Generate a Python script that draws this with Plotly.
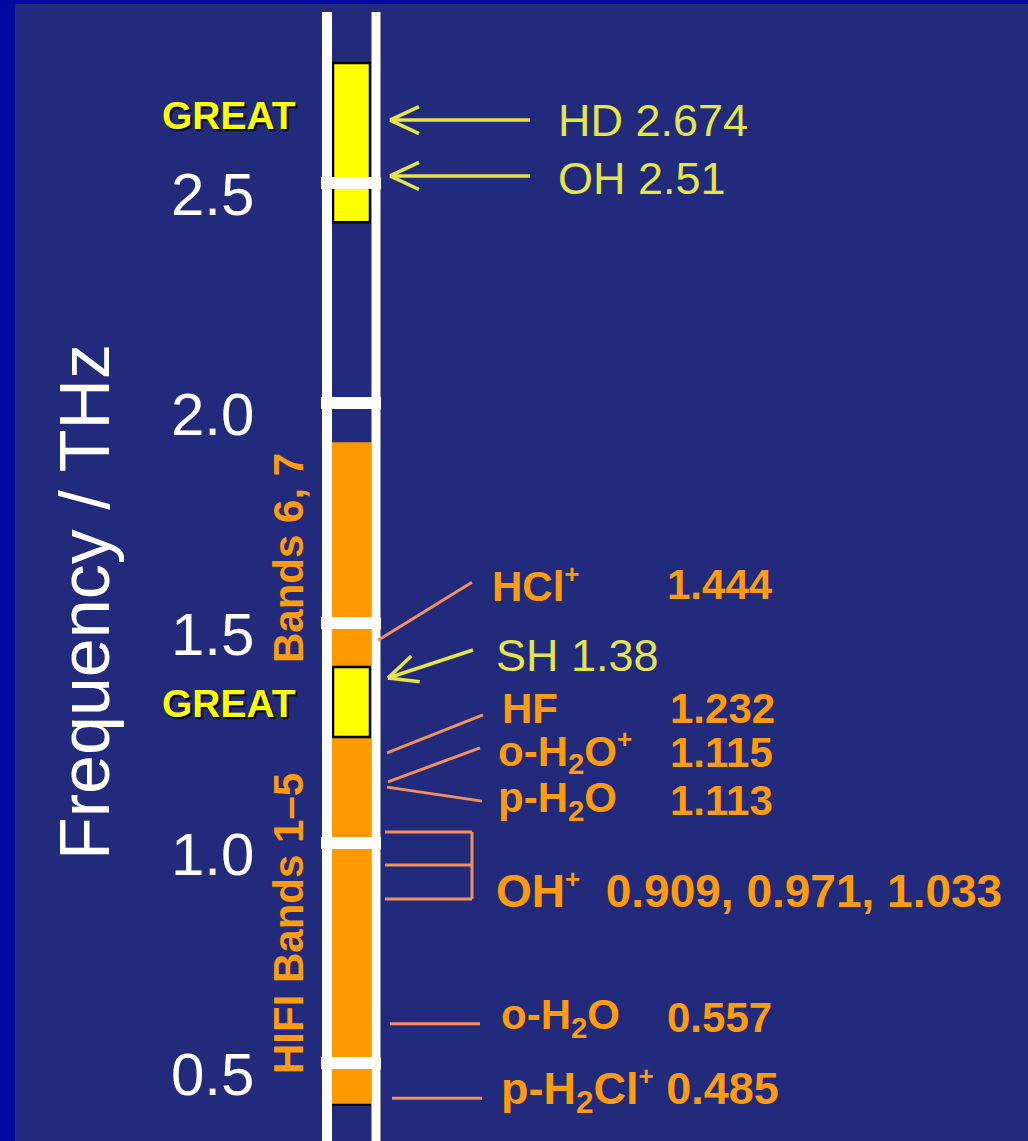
import numpy as np
import plotly.graph_objects as go

# ---------------- data ----------------
tick_vals = [0.5, 1.0, 1.5, 2.0, 2.5]
tick_labels = ["0.5", "1.0", "1.5", "2.0", "2.5"]

hifi_band = [0.405, 1.911]              # orange HIFI coverage (THz)
great_lo = [2.411, 1.241]               # yellow GREAT windows (THz)
great_hi = [2.773, 1.400]

# yellow arrow lines (species observed by GREAT)
great_lines = ["HD 2.674", "OH 2.51", "SH 1.38"]
great_arrow_thz = [2.643, 2.516, 1.375]

# orange pointer lines (HIFI species)
SUP = '<sup><span style="font-size:26px">+</span></sup>'
hifi_species = ["HCl" + SUP, "HF", "o-H<sub>2</sub>O" + SUP, "p-H<sub>2</sub>O",
                "OH" + SUP + "  0.909, 0.971, 1.033", "o-H<sub>2</sub>O",
                "p-H<sub>2</sub>Cl" + SUP + " 0.485"]
hifi_freq_text = ["1.444", "1.232", "1.115", "1.113", "", "0.557", ""]
pointer_thz = [1.461, 1.205, 1.139, 1.127, 0.873, 0.589, 0.420]
ohp_thz = [1.025, 0.950, 0.873]

# ---------------- layout constants ----------------
W, H = 1028, 1141
PX = 440.0          # pixels per THz
Y2 = 403.0          # pixel row of 2.0 THz
y_top = 2.0 + Y2 / PX
y_bot = 2.0 - (H - Y2) / PX


def py(p):
    """pixel row -> THz (for placing text)"""
    return 2.0 + (Y2 - p) / PX


BG = "#222a7c"
ORANGE = "#ff9900"
ORTEXT = "#ff9b0f"
PTR = "#f2915f"
YEL_TXT = "#e3e54b"
FONT = "Liberation Sans, Arial, sans-serif"

fig = go.Figure()

# HIFI band bar
fig.add_trace(go.Bar(x=[351.5], base=[hifi_band[0]], y=[hifi_band[1] - hifi_band[0]], width=40,
                     marker=dict(color=ORANGE, line=dict(width=0))))
# black bottom edge
fig.add_trace(go.Scatter(x=[332, 371], y=[hifi_band[0]] * 2, mode="lines",
                         line=dict(color="black", width=2)))
# GREAT bars
fig.add_trace(go.Bar(x=[351.5] * len(great_lo), base=great_lo,
                     y=[h - l for h, l in zip(great_hi, great_lo)], width=37,
                     marker=dict(color="#ffff00", line=dict(color="black", width=2.5))))

# white rails
rail_top = py(12)
for xr, wd in [(327, 10), (376, 9)]:
    fig.add_trace(go.Scatter(x=[xr, xr], y=[rail_top, y_bot], mode="lines",
                             line=dict(color="white", width=wd)))
# crossbars at ticks
for t in tick_vals:
    fig.add_trace(go.Scatter(x=[321, 381], y=[t, t], mode="lines",
                             line=dict(color="white", width=12)))

# orange pointer lines
ptr_x0 = [378, 387, 388, 387, 385, 390, 392]
ptr_x1 = [472, 483, 480, 482, 472, 480, 482]
ptr_dy = [-58, -38, -34, 14, 0, 0, 0]     # pixel offset of far end
for i, f in enumerate(pointer_thz):
    if i == 4:
        continue
    fig.add_trace(go.Scatter(x=[ptr_x0[i], ptr_x1[i]], y=[f, f - ptr_dy[i] / PX], mode="lines",
                             line=dict(color=PTR, width=3)))
# OH+ bracket
bx = 472
for f in ohp_thz:
    fig.add_trace(go.Scatter(x=[385, bx], y=[f, f], mode="lines", line=dict(color=PTR, width=3)))
fig.add_trace(go.Scatter(x=[bx, bx], y=[max(ohp_thz), min(ohp_thz)], mode="lines",
                         line=dict(color=PTR, width=3)))

# yellow arrows
arrow_tip_x = [390, 390, 388]
arrow_tail = [(530, 0), (530, 0), (473, -28)]   # tail x, pixel dy from tip
for i, f in enumerate(great_arrow_thz):
    tx = arrow_tip_x[i]
    ex, edy = arrow_tail[i]
    fig.add_trace(go.Scatter(x=[tx, ex], y=[f, f - edy / PX], mode="lines",
                             line=dict(color=YEL_TXT, width=3.5)))
    # chevron in pixel space
    dxp, dyp = ex - tx, edy
    ang = np.arctan2(dyp, dxp)
    L = 32
    xs, ys = [], []
    for s in (+1, -1):
        a = ang + s * np.radians(25)
        xs += [tx + L * np.cos(a), tx, None]
        ys += [f - (L * np.sin(a)) / PX, f, None]
    fig.add_trace(go.Scatter(x=xs, y=ys, mode="lines",
                             line=dict(color=YEL_TXT, width=3.5)))

ann = []
# tick labels
for t, lab in zip(tick_vals, tick_labels):
    ann.append(dict(x=256, y=t - 11 / PX, text=lab, xanchor="right", yanchor="middle",
                    font=dict(family=FONT, size=60, color="white")))
# axis title
ann.append(dict(x=85, y=py(602), text="Frequency / THz", textangle=-90, xanchor="center",
                yanchor="middle", font=dict(family=FONT, size=70, color="white")))
# band labels
ann.append(dict(x=288, y=py(558), text="<b>Bands 6, 7</b>", textangle=-90, xanchor="center",
                yanchor="middle", font=dict(family=FONT, size=42, color=ORTEXT)))
ann.append(dict(x=288, y=py(924), text="<b>HIFI Bands 1\u20135</b>", textangle=-90, xanchor="center",
                yanchor="middle", font=dict(family=FONT, size=42, color=ORTEXT)))
# GREAT labels
for yy in (115, 703):
    ann.append(dict(x=298, y=py(yy), text="<b>GREAT</b>", xanchor="right", yanchor="middle",
                    font=dict(family=FONT, size=39, color="#ffff00", shadow="2px 2px 1px black")))
# great line labels
g_lab_y = [120, 178, 655]
g_lab_x = [556, 556, 494]
for i, lab in enumerate(great_lines):
    ann.append(dict(x=g_lab_x[i], y=py(g_lab_y[i]), text=lab, xanchor="left", yanchor="middle",
                    font=dict(family=FONT, size=45, color=YEL_TXT)))
# hifi species labels
sp_x = [490, 500, 496, 496, 494, 499, 499]
sp_y = [584, 708, 752, 800, 890, 1017, 1090]
sp_size = [42, 42, 42, 42, 46, 42, 45]
fq_x = [665, 668, 668, 668, 0, 665, 0]
for i in range(len(hifi_species)):
    ann.append(dict(x=sp_x[i], y=py(sp_y[i]), text="<b>" + hifi_species[i] + "</b>",
                    xanchor="left", yanchor="middle",
                    font=dict(family=FONT, size=sp_size[i], color=ORTEXT)))
    if hifi_freq_text[i]:
        ann.append(dict(x=fq_x[i], y=py(sp_y[i]), text="<b>" + hifi_freq_text[i] + "</b>",
                        xanchor="left", yanchor="middle",
                        font=dict(family=FONT, size=42, color=ORTEXT)))

for a in ann:
    a.update(xref="x", yref="y", showarrow=False)

fig.update_layout(
    width=W, height=H,
    margin=dict(l=0, r=0, t=0, b=0),
    paper_bgcolor=BG, plot_bgcolor=BG,
    showlegend=False, barmode="overlay",
    xaxis=dict(range=[0, W], visible=False, fixedrange=True),
    yaxis=dict(range=[y_bot, y_top], visible=False, fixedrange=True),
    annotations=ann,
    shapes=[
        dict(type="rect", xref="paper", yref="paper", x0=0, x1=15 / W, y0=0, y1=1,
             fillcolor="#0008a2", line=dict(width=0), layer="below"),
        dict(type="rect", xref="paper", yref="paper", x0=0, x1=1, y0=1 - 4 / H, y1=1,
             fillcolor="#0008a2", line=dict(width=0), layer="below"),
    ],
)

fig.write_html("out.html", config={"displayModeBar": False},
               post_script="document.body.style.margin='0';document.body.style.overflow='hidden';")
